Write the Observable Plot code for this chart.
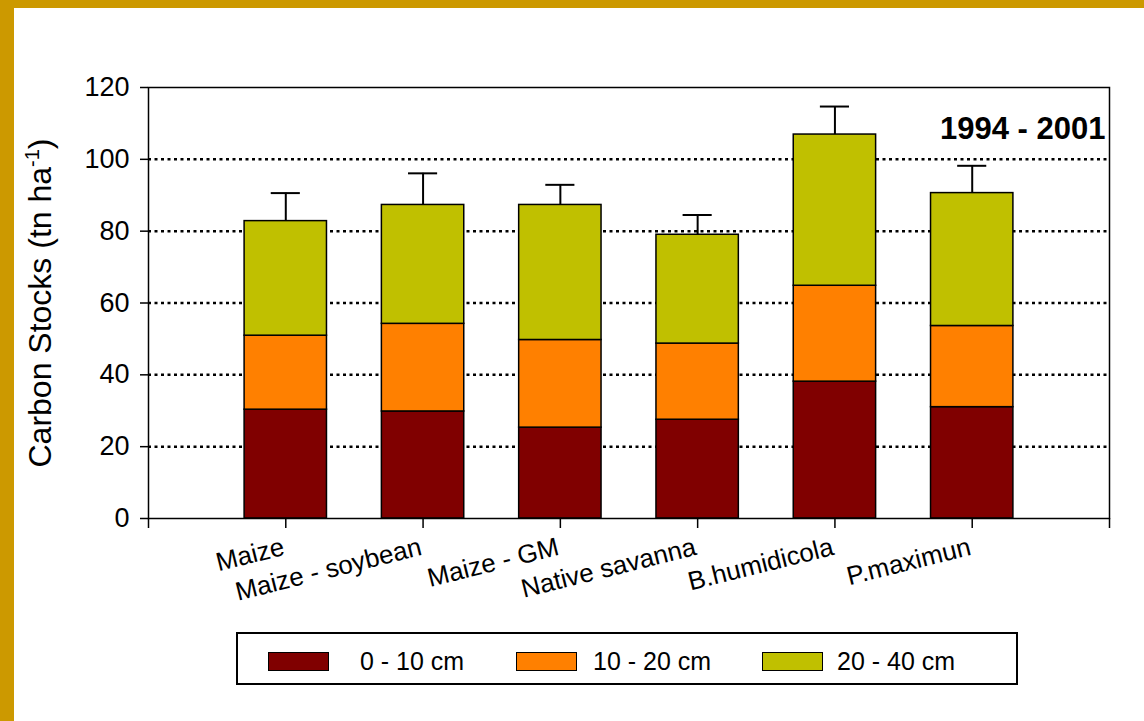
<!DOCTYPE html>
<html>
<head>
<meta charset="utf-8">
<script src="https://cdn.jsdelivr.net/npm/d3@7"></script>
<script src="https://cdn.jsdelivr.net/npm/@observablehq/plot@0.6"></script>
<style>
  html, body { margin: 0; padding: 0; background: #fff; }
  #page { position: relative; width: 1144px; height: 721px; background: #fff; overflow: hidden;
          font-family: "Liberation Sans", Arial, sans-serif; }
  .gold { position: absolute; background: #CC9900; }
  #chart { position: absolute; left: 0; top: 0; }
  #legend { position: absolute; left: 236px; top: 632px; width: 782px; height: 53px;
            box-sizing: border-box; border: 2px solid #000; background: #fff; }
  .sw { position: absolute; width: 61px; height: 19px; box-sizing: border-box; border: 1.5px solid #000; top: 18px; }
  .lt { position: absolute; top: 13px; font-size: 25px; line-height: 28px; color: #000; white-space: nowrap; }
</style>
</head>
<body>
<div id="page">
  <div id="chart"></div>
  <div id="legend"></div>
  <div class="gold" style="left:0;top:0;width:14px;height:721px"></div>
  <div class="gold" style="left:0;top:0;width:1144px;height:8px"></div>
</div>
<script>
// ---- data ----
const categories = ["Maize", "Maize - soybean", "Maize - GM", "Native savanna", "B.humidicola", "P.maximun"];
const layers = ["0 - 10 cm", "10 - 20 cm", "20 - 40 cm"];
const layer0_10 = [30.3, 29.8, 25.3, 27.5, 38.1, 31.0];
const layer10_20 = [20.6, 24.4, 24.4, 21.2, 26.7, 22.6];
const layer20_40 = [31.9, 33.1, 37.6, 30.3, 42.1, 37.0];
const errors = [7.8, 8.8, 5.6, 5.5, 7.8, 7.6];
const yTicks = [0, 20, 40, 60, 80, 100, 120];
const gridValues = [20, 40, 60, 80, 100];
const xTickPositions = [0, 1, 2, 3, 4, 5, 6, 7];
const colors = ["#800000", "#FF8000", "#C0C000"];
const periodLabel = "1994 - 2001";
const yLabel = "Carbon Stocks (tn ha-1)";

// ---- build tables ----
const series = [layer0_10, layer10_20, layer20_40];
const halfWidth = 0.3;
const rects = [];
const totals = [];
categories.forEach((c, i) => {
  let acc = 0;
  series.forEach((s, k) => {
    rects.push({cat: c, pos: i + 1, layer: layers[k], y1: acc, y2: acc + s[i]});
    acc += s[i];
  });
  totals.push({cat: c, pos: i + 1, total: acc, top: acc + errors[i]});
});
const labels = categories.map((c, i) => ({cat: c, pos: i + 1}));

const capHalf = 0.106;

const chart = Plot.plot({
  width: 1144,
  height: 620,
  marginLeft: 148,
  marginRight: 35,
  marginTop: 87,
  marginBottom: 102,
  style: {fontFamily: "'Liberation Sans', Arial, sans-serif", background: "transparent", overflow: "visible", color: "black"},
  x: {domain: [0, 7]},
  y: {domain: [0, 120]},
  color: {domain: layers, range: colors},
  marks: [
    Plot.ruleY(gridValues, {stroke: "black", strokeWidth: 2.5, strokeDasharray: "3,3.5"}),
    Plot.rectY(rects, {
      x1: d => d.pos - halfWidth, x2: d => d.pos + halfWidth,
      y1: "y1", y2: "y2", fill: "layer", stroke: "black", strokeWidth: 1.5
    }),
    Plot.ruleX(totals, {x: "pos", y1: "total", y2: "top", stroke: "black", strokeWidth: 2}),
    Plot.ruleY(totals, {y: "top", x1: d => d.pos - capHalf, x2: d => d.pos + capHalf, stroke: "black", strokeWidth: 2}),
    Plot.frame({stroke: "black", strokeWidth: 1.5}),
    Plot.axisY({ticks: yTicks, tickSize: 8, tickPadding: 11, fontSize: 27, label: null, strokeWidth: 1.5}),
    Plot.axisX({ticks: xTickPositions, tickSize: 10, tickFormat: () => "", label: null, strokeWidth: 1.5}),
    Plot.text(labels, {
      x: "pos", y: () => 0, text: "cat", rotate: -14, textAnchor: "end", lineAnchor: "bottom",
      dx: 0, dy: 36, fontSize: 26, fill: "black"
    }),
    Plot.text([periodLabel], {
      frameAnchor: "top-right", textAnchor: "end", lineAnchor: "bottom",
      dx: -4, dy: 51, fontSize: 31, fontWeight: "bold", fill: "black"
    }),
    Plot.text([yLabel], {
      frameAnchor: "left", rotate: -90, textAnchor: "middle", lineAnchor: "bottom",
      dx: -98, fontSize: 32, fill: "black"
    })
  ]
});
document.getElementById("chart").appendChild(chart);

// superscript in y label
chart.querySelectorAll("text").forEach(t => {
  if (t.textContent === yLabel) {
    const ns = "http://www.w3.org/2000/svg";
    const target = t.querySelector("tspan") || t;
    while (target.firstChild) target.removeChild(target.firstChild);
    target.appendChild(document.createTextNode("Carbon Stocks (tn ha"));
    const sup = document.createElementNS(ns, "tspan");
    sup.setAttribute("font-size", "20");
    sup.setAttribute("dy", "-12");
    sup.textContent = "-1";
    target.appendChild(sup);
    const rest = document.createElementNS(ns, "tspan");
    rest.setAttribute("dy", "12");
    rest.textContent = ")";
    target.appendChild(rest);
  }
});

// legend
const legend = document.getElementById("legend");
const swatchLeft = [30, 278, 524];
const textLeft = [122, 355, 599];
layers.forEach((l, k) => {
  const sw = document.createElement("div");
  sw.className = "sw";
  sw.style.left = swatchLeft[k] + "px";
  sw.style.background = colors[k];
  legend.appendChild(sw);
  const tx = document.createElement("div");
  tx.className = "lt";
  tx.style.left = textLeft[k] + "px";
  tx.textContent = l;
  legend.appendChild(tx);
});
</script>
</body>
</html>
